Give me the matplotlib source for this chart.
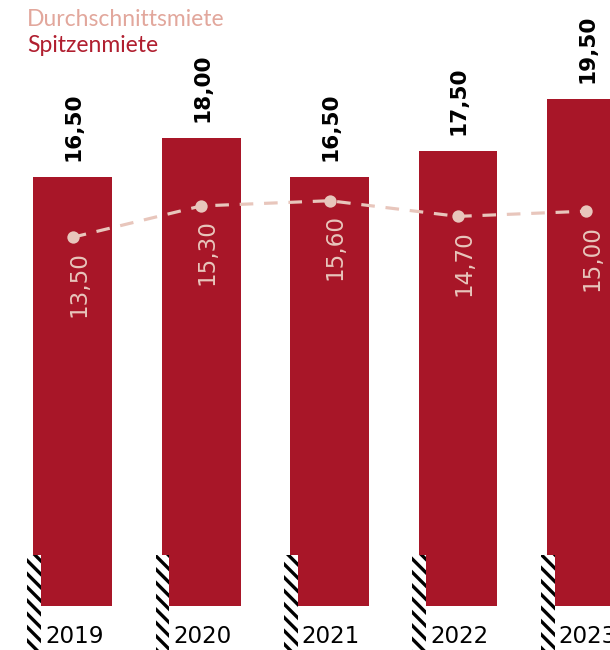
import matplotlib
matplotlib.use("Agg")
import matplotlib.pyplot as plt
from matplotlib.patches import Rectangle

years = ["2019", "2020", "2021", "2022", "2023"]
spitzenmiete = [16.50, 18.00, 16.50, 17.50, 19.50]
durchschnittsmiete = [13.50, 15.30, 15.60, 14.70, 15.00]
legend_labels = ["Durchschnittsmiete", "Spitzenmiete"]

BAR = "#a81628"
LINE = "#e8c6bc"
LEG1 = "#e2a79c"
LEG2 = "#b01e2f"

DPI = 120
plt.rcParams["hatch.linewidth"] = 2.0
plt.rcParams["font.family"] = ["DejaVu Sans"]

fig = plt.figure(figsize=(610 / DPI, 650 / DPI), dpi=DPI)
ax = fig.add_axes([0, 0, 1, 1])
ax.set_xlim(-0.567, 4.184)
ax.set_ylim(-1.69, 23.31)
ax.axis("off")

x = list(range(len(years)))
width = 0.615
ax.bar(x, spitzenmiete, width=width, color=BAR, zorder=1)

def fmt(v):
    return f"{v:.2f}".replace(".", ",")

for xi, v in zip(x, spitzenmiete):
    ax.annotate(fmt(v), xy=(xi, v), xytext=(0.5, 9.5), textcoords="offset points",
                rotation=90, ha="center", va="bottom", fontsize=13.0,
                fontweight="bold", color="black", zorder=5)

# axis break markers and year labels
for xi, yr in zip(x, years):
    left = xi - width / 2
    ax.add_patch(Rectangle((left - 0.047, -1.8), 0.107, 1.8 + 1.96,
                           facecolor="white", edgecolor="black", linewidth=0,
                           hatch="\\\\\\", zorder=3, clip_on=False))
    ax.annotate(yr, xy=(left, 0), xytext=(7.0, -18), textcoords="offset points",
                ha="left", va="center", fontsize=13.8, color="black", zorder=5)

ax2 = ax.twinx()
ax2.set_ylim(-10.22, 27.135)
ax2.axis("off")
ax2.plot(x, durchschnittsmiete, color=LINE, linewidth=1.9, dashes=(4.3, 3.4),
         marker="o", markersize=7.4, markeredgewidth=0, zorder=4)
for xi, v in zip(x, durchschnittsmiete):
    ax2.annotate(fmt(v), xy=(xi, v), xytext=(3.5, -8.2), textcoords="offset points",
                 rotation=90, ha="center", va="top", fontsize=13.8, color=LINE)

fig.text(27 / 610, 1 - 26 / 650, legend_labels[0], color=LEG1, fontsize=13.7,
         family=["Lato", "DejaVu Sans"], va="baseline", ha="left")
fig.text(27 / 610, 1 - 52 / 650, legend_labels[1], color=LEG2, fontsize=13.7,
         family=["Lato", "DejaVu Sans"], va="baseline", ha="left")

fig.savefig("out.png", dpi=DPI)
